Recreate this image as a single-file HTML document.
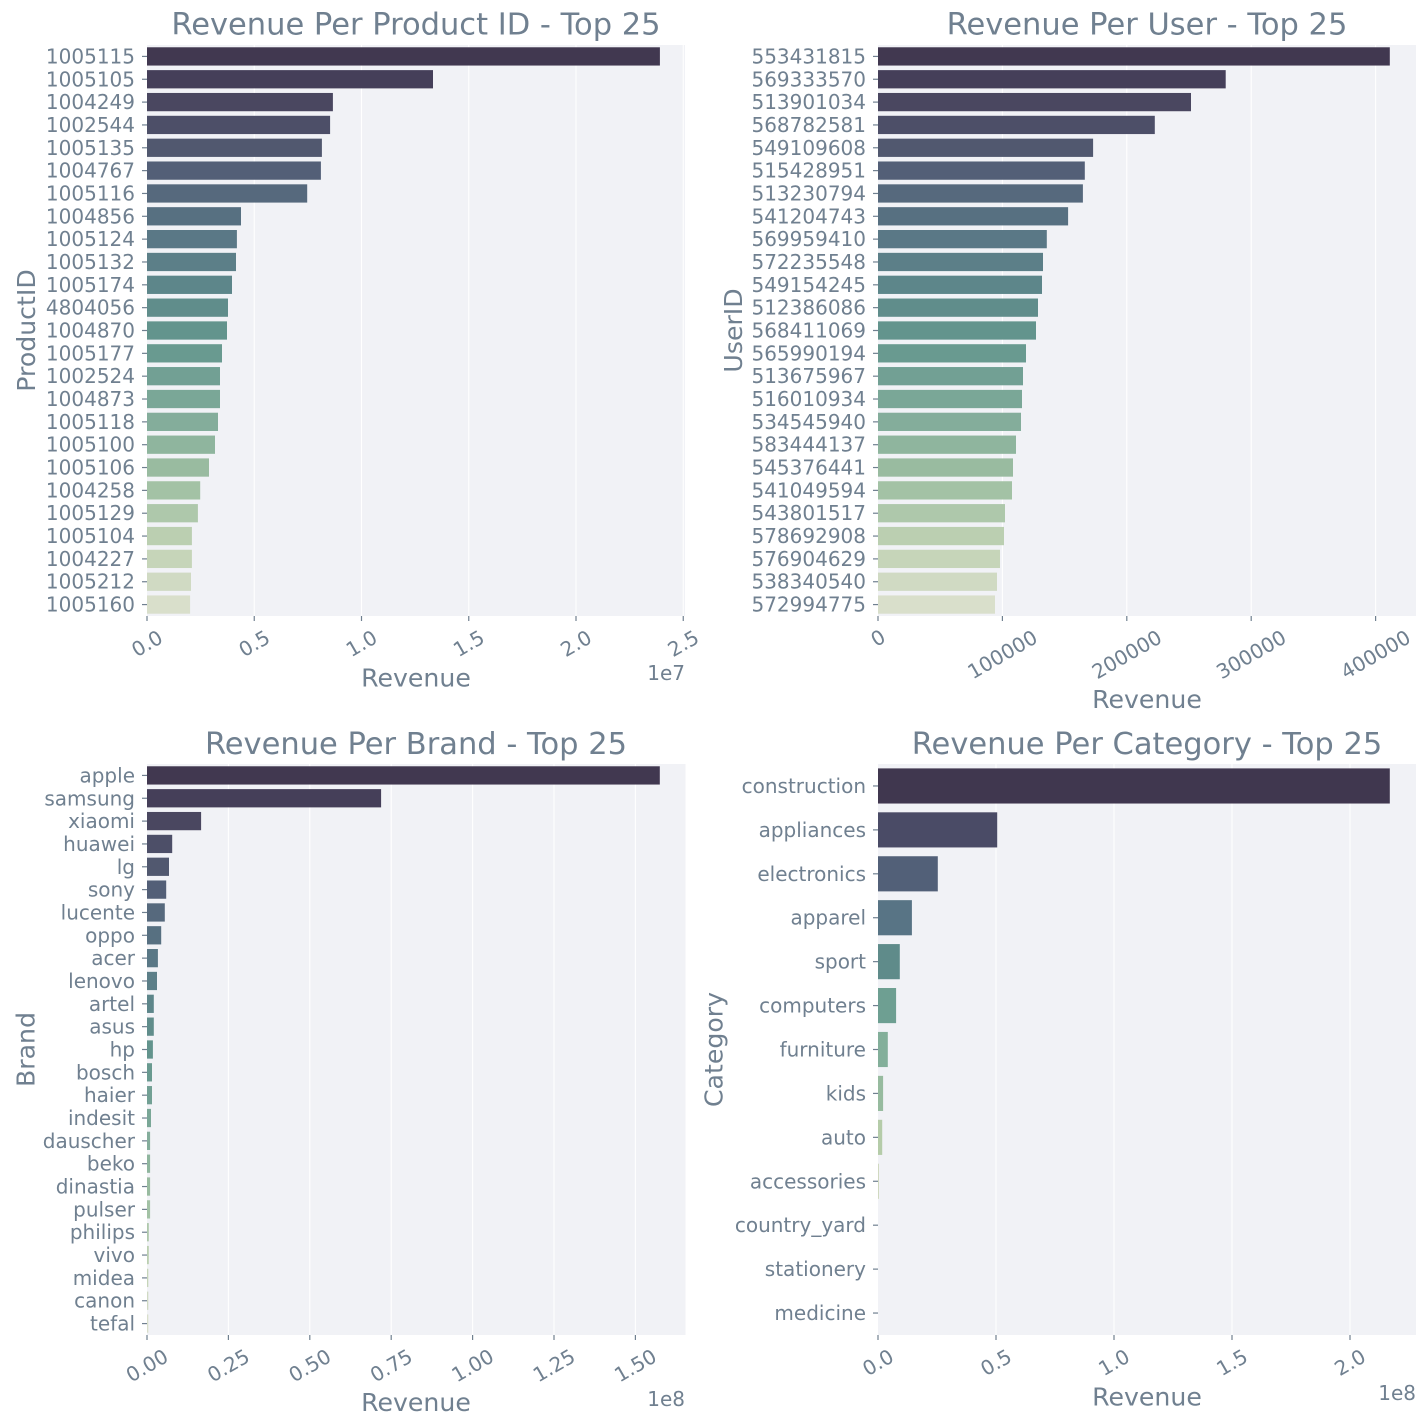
<!DOCTYPE html>
<html>
<head>
<meta charset="utf-8">
<style>
html,body{margin:0;padding:0;background:#ffffff;}
svg{display:block;}
text{font-family:"DejaVu Sans","Liberation Sans",sans-serif;fill:#708090;}
.t{font-size:20px;}
.ttl{font-size:30.5px;}
.al{font-size:25.2px;}
.tk{stroke:#708090;stroke-width:1.2;}
.gr{stroke:#ffffff;stroke-width:1.1;}
</style>
</head>
<body>
<svg width="1427" height="1428" viewBox="0 0 1427 1428" xmlns="http://www.w3.org/2000/svg">
<rect x="0" y="0" width="1427" height="1428" fill="#ffffff"/>

<!-- ============ TOP LEFT: Product ID ============ -->
<rect x="147" y="45" width="538" height="571" fill="#f1f2f6"/>
<g class="gr">
<line x1="254.25" y1="45" x2="254.25" y2="616"/>
<line x1="361.5" y1="45" x2="361.5" y2="616"/>
<line x1="468.75" y1="45" x2="468.75" y2="616"/>
<line x1="576" y1="45" x2="576" y2="616"/>
<line x1="683.25" y1="45" x2="683.25" y2="616"/>
</g>
<g>
<rect x="147" y="47.28" width="512.9" height="18.27" fill="#413850"/>
<rect x="147" y="70.12" width="286" height="18.27" fill="#453f59"/>
<rect x="147" y="92.96" width="185.9" height="18.27" fill="#4a4760"/>
<rect x="147" y="115.80" width="183.1" height="18.27" fill="#4d4f68"/>
<rect x="147" y="138.64" width="174.9" height="18.27" fill="#51586f"/>
<rect x="147" y="161.48" width="173.9" height="18.27" fill="#535f77"/>
<rect x="147" y="184.32" width="160.2" height="18.27" fill="#56697d"/>
<rect x="147" y="207.16" width="94" height="18.27" fill="#577081"/>
<rect x="147" y="230.00" width="89.9" height="18.27" fill="#5a7886"/>
<rect x="147" y="252.84" width="89" height="18.27" fill="#5c7f88"/>
<rect x="147" y="275.68" width="85" height="18.27" fill="#5d868a"/>
<rect x="147" y="298.52" width="81" height="18.27" fill="#608d8b"/>
<rect x="147" y="321.36" width="80" height="18.27" fill="#63948d"/>
<rect x="147" y="344.20" width="75" height="18.27" fill="#699a90"/>
<rect x="147" y="367.04" width="73" height="18.27" fill="#72a094"/>
<rect x="147" y="389.88" width="73" height="18.27" fill="#7aa797"/>
<rect x="147" y="412.72" width="71" height="18.27" fill="#84ad9b"/>
<rect x="147" y="435.56" width="68" height="18.27" fill="#8fb59e"/>
<rect x="147" y="458.40" width="62" height="18.27" fill="#99bba0"/>
<rect x="147" y="481.24" width="53.2" height="18.27" fill="#a3c2a5"/>
<rect x="147" y="504.08" width="50.9" height="18.27" fill="#aec8ab"/>
<rect x="147" y="526.92" width="44.9" height="18.27" fill="#bbcfb1"/>
<rect x="147" y="549.76" width="44.9" height="18.27" fill="#c6d5b9"/>
<rect x="147" y="572.60" width="44" height="18.27" fill="#d0dac3"/>
<rect x="147" y="595.44" width="43.1" height="18.27" fill="#d9dfcb"/>
</g>
<g class="tk">
<line x1="142" y1="56.42" x2="147" y2="56.42"/><line x1="142" y1="79.26" x2="147" y2="79.26"/><line x1="142" y1="102.10" x2="147" y2="102.10"/><line x1="142" y1="124.94" x2="147" y2="124.94"/><line x1="142" y1="147.78" x2="147" y2="147.78"/><line x1="142" y1="170.62" x2="147" y2="170.62"/><line x1="142" y1="193.46" x2="147" y2="193.46"/><line x1="142" y1="216.30" x2="147" y2="216.30"/><line x1="142" y1="239.14" x2="147" y2="239.14"/><line x1="142" y1="261.98" x2="147" y2="261.98"/><line x1="142" y1="284.82" x2="147" y2="284.82"/><line x1="142" y1="307.66" x2="147" y2="307.66"/><line x1="142" y1="330.50" x2="147" y2="330.50"/><line x1="142" y1="353.34" x2="147" y2="353.34"/><line x1="142" y1="376.18" x2="147" y2="376.18"/><line x1="142" y1="399.02" x2="147" y2="399.02"/><line x1="142" y1="421.86" x2="147" y2="421.86"/><line x1="142" y1="444.70" x2="147" y2="444.70"/><line x1="142" y1="467.54" x2="147" y2="467.54"/><line x1="142" y1="490.38" x2="147" y2="490.38"/><line x1="142" y1="513.22" x2="147" y2="513.22"/><line x1="142" y1="536.06" x2="147" y2="536.06"/><line x1="142" y1="558.90" x2="147" y2="558.90"/><line x1="142" y1="581.74" x2="147" y2="581.74"/><line x1="142" y1="604.58" x2="147" y2="604.58"/>
<line x1="147" y1="616" x2="147" y2="621"/><line x1="254.25" y1="616" x2="254.25" y2="621"/><line x1="361.5" y1="616" x2="361.5" y2="621"/><line x1="468.75" y1="616" x2="468.75" y2="621"/><line x1="576" y1="616" x2="576" y2="621"/><line x1="683.25" y1="616" x2="683.25" y2="621"/>
</g>
<g class="t" text-anchor="end">
<text x="135" y="63.42">1005115</text>
<text x="135" y="86.26">1005105</text>
<text x="135" y="109.10">1004249</text>
<text x="135" y="131.94">1002544</text>
<text x="135" y="154.78">1005135</text>
<text x="135" y="177.62">1004767</text>
<text x="135" y="200.46">1005116</text>
<text x="135" y="223.30">1004856</text>
<text x="135" y="246.14">1005124</text>
<text x="135" y="268.98">1005132</text>
<text x="135" y="291.82">1005174</text>
<text x="135" y="314.66">4804056</text>
<text x="135" y="337.50">1004870</text>
<text x="135" y="360.34">1005177</text>
<text x="135" y="383.18">1002524</text>
<text x="135" y="406.02">1004873</text>
<text x="135" y="428.86">1005118</text>
<text x="135" y="451.70">1005100</text>
<text x="135" y="474.54">1005106</text>
<text x="135" y="497.38">1004258</text>
<text x="135" y="520.22">1005129</text>
<text x="135" y="543.06">1005104</text>
<text x="135" y="565.90">1004227</text>
<text x="135" y="588.74">1005212</text>
<text x="135" y="611.58">1005160</text>
</g>
<g class="t" text-anchor="middle">
<text x="0" y="7" transform="translate(147,643.5) rotate(-30)">0.0</text>
<text x="0" y="7" transform="translate(254.25,643.5) rotate(-30)">0.5</text>
<text x="0" y="7" transform="translate(361.5,643.5) rotate(-30)">1.0</text>
<text x="0" y="7" transform="translate(468.75,643.5) rotate(-30)">1.5</text>
<text x="0" y="7" transform="translate(576,643.5) rotate(-30)">2.0</text>
<text x="0" y="7" transform="translate(683.25,643.5) rotate(-30)">2.5</text>
</g>
<text class="t" x="685" y="680" text-anchor="end">1e7</text>
<text class="al" x="416" y="686.5" text-anchor="middle">Revenue</text>
<text class="al" text-anchor="middle" transform="translate(35,330.5) rotate(-90)">ProductID</text>
<text class="ttl" x="416" y="34.5" text-anchor="middle">Revenue Per Product ID - Top 25</text>

<!-- ============ TOP RIGHT: User ============ -->
<rect x="878" y="45" width="538" height="571" fill="#f1f2f6"/>
<g class="gr">
<line x1="1002.4" y1="45" x2="1002.4" y2="616"/>
<line x1="1126.8" y1="45" x2="1126.8" y2="616"/>
<line x1="1251.2" y1="45" x2="1251.2" y2="616"/>
<line x1="1375.6" y1="45" x2="1375.6" y2="616"/>
</g>
<g>
<rect x="878" y="47.28" width="511.8" height="18.27" fill="#413850"/>
<rect x="878" y="70.12" width="347.7" height="18.27" fill="#453f59"/>
<rect x="878" y="92.96" width="313" height="18.27" fill="#4a4760"/>
<rect x="878" y="115.80" width="276.8" height="18.27" fill="#4d4f68"/>
<rect x="878" y="138.64" width="215.1" height="18.27" fill="#51586f"/>
<rect x="878" y="161.48" width="206.8" height="18.27" fill="#535f77"/>
<rect x="878" y="184.32" width="204.9" height="18.27" fill="#56697d"/>
<rect x="878" y="207.16" width="190.1" height="18.27" fill="#577081"/>
<rect x="878" y="230.00" width="168.8" height="18.27" fill="#5a7886"/>
<rect x="878" y="252.84" width="165" height="18.27" fill="#5c7f88"/>
<rect x="878" y="275.68" width="164" height="18.27" fill="#5d868a"/>
<rect x="878" y="298.52" width="160" height="18.27" fill="#608d8b"/>
<rect x="878" y="321.36" width="158" height="18.27" fill="#63948d"/>
<rect x="878" y="344.20" width="148" height="18.27" fill="#699a90"/>
<rect x="878" y="367.04" width="145" height="18.27" fill="#72a094"/>
<rect x="878" y="389.88" width="144" height="18.27" fill="#7aa797"/>
<rect x="878" y="412.72" width="143" height="18.27" fill="#84ad9b"/>
<rect x="878" y="435.56" width="138" height="18.27" fill="#8fb59e"/>
<rect x="878" y="458.40" width="135" height="18.27" fill="#99bba0"/>
<rect x="878" y="481.24" width="134" height="18.27" fill="#a3c2a5"/>
<rect x="878" y="504.08" width="127" height="18.27" fill="#aec8ab"/>
<rect x="878" y="526.92" width="126" height="18.27" fill="#bbcfb1"/>
<rect x="878" y="549.76" width="122" height="18.27" fill="#c6d5b9"/>
<rect x="878" y="572.60" width="119" height="18.27" fill="#d0dac3"/>
<rect x="878" y="595.44" width="117" height="18.27" fill="#d9dfcb"/>
</g>
<g class="tk">
<line x1="873" y1="56.42" x2="878" y2="56.42"/><line x1="873" y1="79.26" x2="878" y2="79.26"/><line x1="873" y1="102.10" x2="878" y2="102.10"/><line x1="873" y1="124.94" x2="878" y2="124.94"/><line x1="873" y1="147.78" x2="878" y2="147.78"/><line x1="873" y1="170.62" x2="878" y2="170.62"/><line x1="873" y1="193.46" x2="878" y2="193.46"/><line x1="873" y1="216.30" x2="878" y2="216.30"/><line x1="873" y1="239.14" x2="878" y2="239.14"/><line x1="873" y1="261.98" x2="878" y2="261.98"/><line x1="873" y1="284.82" x2="878" y2="284.82"/><line x1="873" y1="307.66" x2="878" y2="307.66"/><line x1="873" y1="330.50" x2="878" y2="330.50"/><line x1="873" y1="353.34" x2="878" y2="353.34"/><line x1="873" y1="376.18" x2="878" y2="376.18"/><line x1="873" y1="399.02" x2="878" y2="399.02"/><line x1="873" y1="421.86" x2="878" y2="421.86"/><line x1="873" y1="444.70" x2="878" y2="444.70"/><line x1="873" y1="467.54" x2="878" y2="467.54"/><line x1="873" y1="490.38" x2="878" y2="490.38"/><line x1="873" y1="513.22" x2="878" y2="513.22"/><line x1="873" y1="536.06" x2="878" y2="536.06"/><line x1="873" y1="558.90" x2="878" y2="558.90"/><line x1="873" y1="581.74" x2="878" y2="581.74"/><line x1="873" y1="604.58" x2="878" y2="604.58"/>
<line x1="878" y1="616" x2="878" y2="621"/><line x1="1002.4" y1="616" x2="1002.4" y2="621"/><line x1="1126.8" y1="616" x2="1126.8" y2="621"/><line x1="1251.2" y1="616" x2="1251.2" y2="621"/><line x1="1375.6" y1="616" x2="1375.6" y2="621"/>
</g>
<g class="t" text-anchor="end">
<text x="866" y="63.42">553431815</text>
<text x="866" y="86.26">569333570</text>
<text x="866" y="109.10">513901034</text>
<text x="866" y="131.94">568782581</text>
<text x="866" y="154.78">549109608</text>
<text x="866" y="177.62">515428951</text>
<text x="866" y="200.46">513230794</text>
<text x="866" y="223.30">541204743</text>
<text x="866" y="246.14">569959410</text>
<text x="866" y="268.98">572235548</text>
<text x="866" y="291.82">549154245</text>
<text x="866" y="314.66">512386086</text>
<text x="866" y="337.50">568411069</text>
<text x="866" y="360.34">565990194</text>
<text x="866" y="383.18">513675967</text>
<text x="866" y="406.02">516010934</text>
<text x="866" y="428.86">534545940</text>
<text x="866" y="451.70">583444137</text>
<text x="866" y="474.54">545376441</text>
<text x="866" y="497.38">541049594</text>
<text x="866" y="520.22">543801517</text>
<text x="866" y="543.06">578692908</text>
<text x="866" y="565.90">576904629</text>
<text x="866" y="588.74">538340540</text>
<text x="866" y="611.58">572994775</text>
</g>
<g class="t" text-anchor="middle">
<text x="0" y="7" transform="translate(878,638) rotate(-30)">0</text>
<text x="0" y="7" transform="translate(1002.4,654.5) rotate(-30)">100000</text>
<text x="0" y="7" transform="translate(1126.8,654.5) rotate(-30)">200000</text>
<text x="0" y="7" transform="translate(1251.2,654.5) rotate(-30)">300000</text>
<text x="0" y="7" transform="translate(1375.6,654.5) rotate(-30)">400000</text>
</g>
<text class="al" x="1147" y="708" text-anchor="middle">Revenue</text>
<text class="al" text-anchor="middle" transform="translate(742,330.5) rotate(-90)">UserID</text>
<text class="ttl" x="1147" y="34.5" text-anchor="middle">Revenue Per User - Top 25</text>

<!-- ============ BOTTOM LEFT: Brand ============ -->
<rect x="147" y="764" width="538.5" height="571" fill="#f1f2f6"/>
<g class="gr">
<line x1="228.4" y1="764" x2="228.4" y2="1335"/>
<line x1="309.8" y1="764" x2="309.8" y2="1335"/>
<line x1="391.2" y1="764" x2="391.2" y2="1335"/>
<line x1="472.6" y1="764" x2="472.6" y2="1335"/>
<line x1="554" y1="764" x2="554" y2="1335"/>
<line x1="635.4" y1="764" x2="635.4" y2="1335"/>
</g>
<g>
<rect x="147" y="766.28" width="512.8" height="18.27" fill="#413850"/>
<rect x="147" y="789.12" width="234.1" height="18.27" fill="#453f59"/>
<rect x="147" y="811.96" width="54.1" height="18.27" fill="#4a4760"/>
<rect x="147" y="834.80" width="25.2" height="18.27" fill="#4d4f68"/>
<rect x="147" y="857.64" width="22" height="18.27" fill="#51586f"/>
<rect x="147" y="880.48" width="19.2" height="18.27" fill="#535f77"/>
<rect x="147" y="903.32" width="17.8" height="18.27" fill="#56697d"/>
<rect x="147" y="926.16" width="14.2" height="18.27" fill="#577081"/>
<rect x="147" y="949.00" width="10.9" height="18.27" fill="#5a7886"/>
<rect x="147" y="971.84" width="10" height="18.27" fill="#5c7f88"/>
<rect x="147" y="994.68" width="6.8" height="18.27" fill="#5d868a"/>
<rect x="147" y="1017.52" width="6.8" height="18.27" fill="#608d8b"/>
<rect x="147" y="1040.36" width="5.9" height="18.27" fill="#63948d"/>
<rect x="147" y="1063.20" width="5" height="18.27" fill="#699a90"/>
<rect x="147" y="1086.04" width="5" height="18.27" fill="#72a094"/>
<rect x="147" y="1108.88" width="4" height="18.27" fill="#7aa797"/>
<rect x="147" y="1131.72" width="3.1" height="18.27" fill="#84ad9b"/>
<rect x="147" y="1154.56" width="3.1" height="18.27" fill="#8fb59e"/>
<rect x="147" y="1177.40" width="3.1" height="18.27" fill="#99bba0"/>
<rect x="147" y="1200.24" width="3.1" height="18.27" fill="#a3c2a5"/>
<rect x="147" y="1223.08" width="1.8" height="18.27" fill="#aec8ab"/>
<rect x="147" y="1245.92" width="1.8" height="18.27" fill="#bbcfb1"/>
<rect x="147" y="1268.76" width="1.3" height="18.27" fill="#c6d5b9"/>
<rect x="147" y="1291.60" width="1.3" height="18.27" fill="#d0dac3"/>
<rect x="147" y="1314.44" width="1.3" height="18.27" fill="#d9dfcb"/>
</g>
<g class="tk">
<line x1="142" y1="775.42" x2="147" y2="775.42"/><line x1="142" y1="798.26" x2="147" y2="798.26"/><line x1="142" y1="821.10" x2="147" y2="821.10"/><line x1="142" y1="843.94" x2="147" y2="843.94"/><line x1="142" y1="866.78" x2="147" y2="866.78"/><line x1="142" y1="889.62" x2="147" y2="889.62"/><line x1="142" y1="912.46" x2="147" y2="912.46"/><line x1="142" y1="935.30" x2="147" y2="935.30"/><line x1="142" y1="958.14" x2="147" y2="958.14"/><line x1="142" y1="980.98" x2="147" y2="980.98"/><line x1="142" y1="1003.82" x2="147" y2="1003.82"/><line x1="142" y1="1026.66" x2="147" y2="1026.66"/><line x1="142" y1="1049.50" x2="147" y2="1049.50"/><line x1="142" y1="1072.34" x2="147" y2="1072.34"/><line x1="142" y1="1095.18" x2="147" y2="1095.18"/><line x1="142" y1="1118.02" x2="147" y2="1118.02"/><line x1="142" y1="1140.86" x2="147" y2="1140.86"/><line x1="142" y1="1163.70" x2="147" y2="1163.70"/><line x1="142" y1="1186.54" x2="147" y2="1186.54"/><line x1="142" y1="1209.38" x2="147" y2="1209.38"/><line x1="142" y1="1232.22" x2="147" y2="1232.22"/><line x1="142" y1="1255.06" x2="147" y2="1255.06"/><line x1="142" y1="1277.90" x2="147" y2="1277.90"/><line x1="142" y1="1300.74" x2="147" y2="1300.74"/><line x1="142" y1="1323.58" x2="147" y2="1323.58"/>
<line x1="147" y1="1335" x2="147" y2="1340"/><line x1="228.4" y1="1335" x2="228.4" y2="1340"/><line x1="309.8" y1="1335" x2="309.8" y2="1340"/><line x1="391.2" y1="1335" x2="391.2" y2="1340"/><line x1="472.6" y1="1335" x2="472.6" y2="1340"/><line x1="554" y1="1335" x2="554" y2="1340"/><line x1="635.4" y1="1335" x2="635.4" y2="1340"/>
</g>
<g class="t" text-anchor="end">
<text x="135" y="782.42">apple</text>
<text x="135" y="805.26">samsung</text>
<text x="135" y="828.10">xiaomi</text>
<text x="135" y="850.94">huawei</text>
<text x="135" y="873.78">lg</text>
<text x="135" y="896.62">sony</text>
<text x="135" y="919.46">lucente</text>
<text x="135" y="942.30">oppo</text>
<text x="135" y="965.14">acer</text>
<text x="135" y="987.98">lenovo</text>
<text x="135" y="1010.82">artel</text>
<text x="135" y="1033.66">asus</text>
<text x="135" y="1056.50">hp</text>
<text x="135" y="1079.34">bosch</text>
<text x="135" y="1102.18">haier</text>
<text x="135" y="1125.02">indesit</text>
<text x="135" y="1147.86">dauscher</text>
<text x="135" y="1170.70">beko</text>
<text x="135" y="1193.54">dinastia</text>
<text x="135" y="1216.38">pulser</text>
<text x="135" y="1239.22">philips</text>
<text x="135" y="1262.06">vivo</text>
<text x="135" y="1284.90">midea</text>
<text x="135" y="1307.74">canon</text>
<text x="135" y="1330.58">tefal</text>
</g>
<g class="t" text-anchor="middle">
<text x="0" y="7" transform="translate(147,1365.6) rotate(-30)">0.00</text>
<text x="0" y="7" transform="translate(228.4,1365.6) rotate(-30)">0.25</text>
<text x="0" y="7" transform="translate(309.8,1365.6) rotate(-30)">0.50</text>
<text x="0" y="7" transform="translate(391.2,1365.6) rotate(-30)">0.75</text>
<text x="0" y="7" transform="translate(472.6,1365.6) rotate(-30)">1.00</text>
<text x="0" y="7" transform="translate(554,1365.6) rotate(-30)">1.25</text>
<text x="0" y="7" transform="translate(635.4,1365.6) rotate(-30)">1.50</text>
</g>
<text class="t" x="685" y="1406" text-anchor="end">1e8</text>
<text class="al" x="416" y="1411" text-anchor="middle">Revenue</text>
<text class="al" text-anchor="middle" transform="translate(34.5,1049.5) rotate(-90)">Brand</text>
<text class="ttl" x="416" y="754" text-anchor="middle">Revenue Per Brand - Top 25</text>

<!-- ============ BOTTOM RIGHT: Category ============ -->
<rect x="878" y="764" width="538" height="571" fill="#f1f2f6"/>
<g class="gr">
<line x1="996" y1="764" x2="996" y2="1335"/>
<line x1="1114" y1="764" x2="1114" y2="1335"/>
<line x1="1232" y1="764" x2="1232" y2="1335"/>
<line x1="1350" y1="764" x2="1350" y2="1335"/>
</g>
<g>
<rect x="878" y="768.39" width="511.8" height="35.14" fill="#40374f"/>
<rect x="878" y="812.31" width="119.2" height="35.14" fill="#4a4b66"/>
<rect x="878" y="856.24" width="59.8" height="35.14" fill="#526078"/>
<rect x="878" y="900.16" width="33.9" height="35.14" fill="#587485"/>
<rect x="878" y="944.08" width="21.8" height="35.14" fill="#5f8b8a"/>
<rect x="878" y="988.01" width="18.1" height="35.14" fill="#6e9f92"/>
<rect x="878" y="1031.93" width="9.8" height="35.14" fill="#83af9a"/>
<rect x="878" y="1075.85" width="5.1" height="35.14" fill="#97bb9f"/>
<rect x="878" y="1119.78" width="4.2" height="35.14" fill="#b5cca9"/>
<rect x="878" y="1163.70" width="1.0" height="35.14" fill="#d0d9c0"/>
</g>
<g class="tk">
<line x1="873" y1="785.96" x2="878" y2="785.96"/><line x1="873" y1="829.88" x2="878" y2="829.88"/><line x1="873" y1="873.81" x2="878" y2="873.81"/><line x1="873" y1="917.73" x2="878" y2="917.73"/><line x1="873" y1="961.65" x2="878" y2="961.65"/><line x1="873" y1="1005.58" x2="878" y2="1005.58"/><line x1="873" y1="1049.50" x2="878" y2="1049.50"/><line x1="873" y1="1093.42" x2="878" y2="1093.42"/><line x1="873" y1="1137.35" x2="878" y2="1137.35"/><line x1="873" y1="1181.27" x2="878" y2="1181.27"/><line x1="873" y1="1225.19" x2="878" y2="1225.19"/><line x1="873" y1="1269.12" x2="878" y2="1269.12"/><line x1="873" y1="1313.04" x2="878" y2="1313.04"/>
<line x1="878" y1="1335" x2="878" y2="1340"/><line x1="996" y1="1335" x2="996" y2="1340"/><line x1="1114" y1="1335" x2="1114" y2="1340"/><line x1="1232" y1="1335" x2="1232" y2="1340"/><line x1="1350" y1="1335" x2="1350" y2="1340"/>
</g>
<g class="t" text-anchor="end">
<text x="866" y="792.96">construction</text>
<text x="866" y="836.88">appliances</text>
<text x="866" y="880.81">electronics</text>
<text x="866" y="924.73">apparel</text>
<text x="866" y="968.65">sport</text>
<text x="866" y="1012.58">computers</text>
<text x="866" y="1056.50">furniture</text>
<text x="866" y="1100.42">kids</text>
<text x="866" y="1144.35">auto</text>
<text x="866" y="1188.27">accessories</text>
<text x="866" y="1232.19">country_yard</text>
<text x="866" y="1276.12">stationery</text>
<text x="866" y="1320.04">medicine</text>
</g>
<g class="t" text-anchor="middle">
<text x="0" y="7" transform="translate(878,1362.5) rotate(-30)">0.0</text>
<text x="0" y="7" transform="translate(996,1362.5) rotate(-30)">0.5</text>
<text x="0" y="7" transform="translate(1114,1362.5) rotate(-30)">1.0</text>
<text x="0" y="7" transform="translate(1232,1362.5) rotate(-30)">1.5</text>
<text x="0" y="7" transform="translate(1350,1362.5) rotate(-30)">2.0</text>
</g>
<text class="t" x="1416" y="1400" text-anchor="end">1e8</text>
<text class="al" x="1147" y="1405.5" text-anchor="middle">Revenue</text>
<text class="al" text-anchor="middle" transform="translate(722.5,1049.5) rotate(-90)">Category</text>
<text class="ttl" x="1147" y="754" text-anchor="middle">Revenue Per Category - Top 25</text>
</svg>
</body>
</html>
